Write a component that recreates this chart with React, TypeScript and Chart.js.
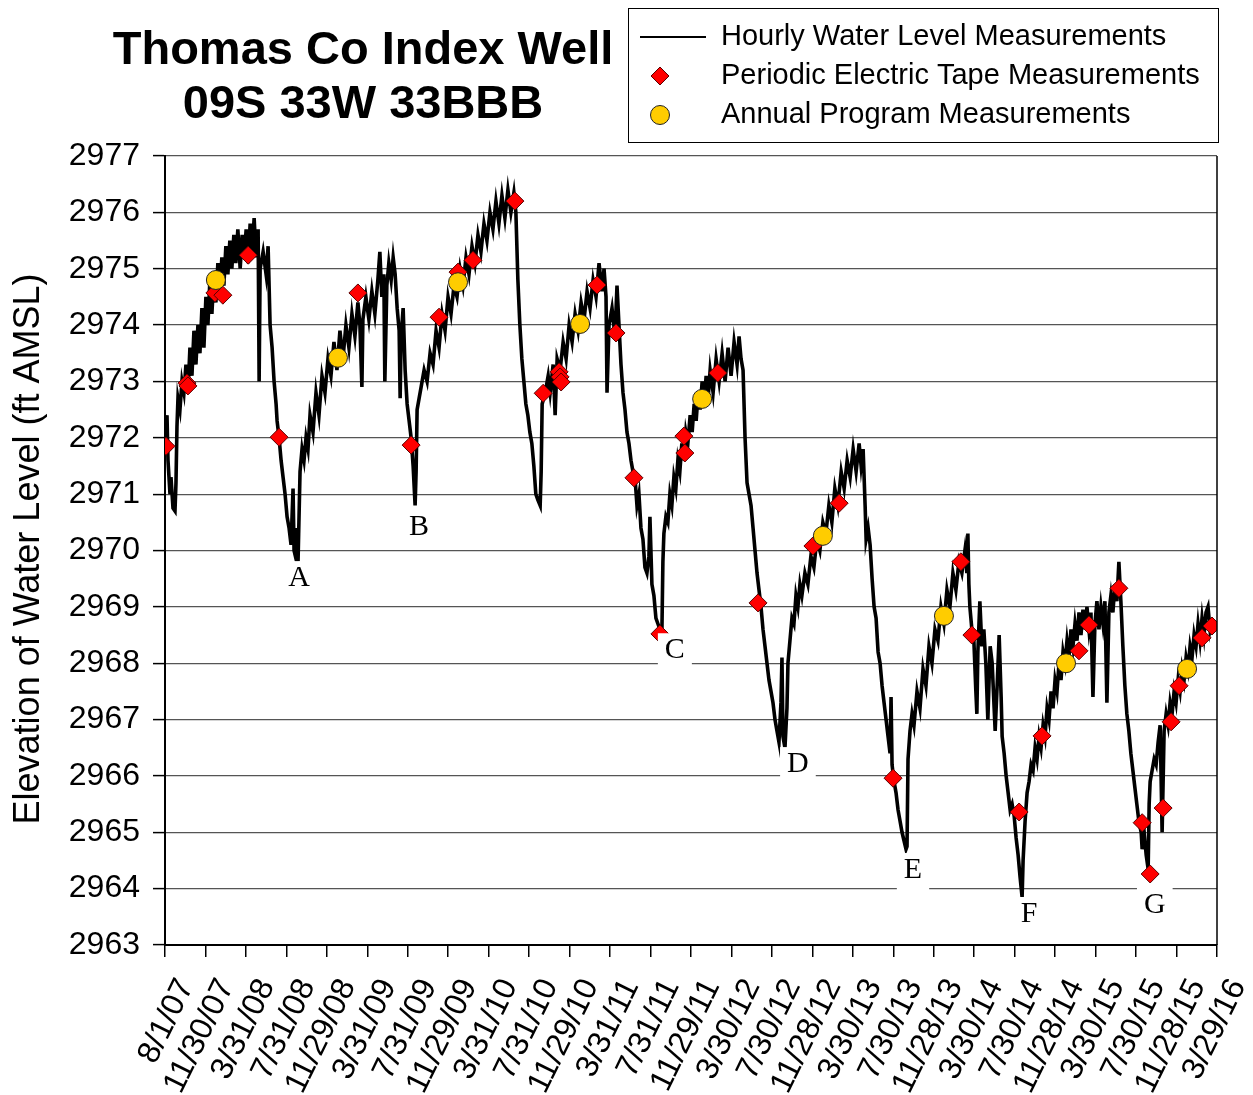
import React, { useEffect, useRef } from 'react';
import { Chart, registerables } from 'chart.js';

Chart.register(...registerables);

// x values are days since 8/1/07
const xTickLabels = ['8/1/07', '11/30/07', '3/31/08', '7/31/08', '11/29/08', '3/31/09', '7/31/09', '11/29/09', '3/31/10', '7/31/10', '11/29/10', '3/31/11', '7/31/11', '11/29/11', '3/30/12', '7/30/12', '11/28/12', '3/30/13', '7/30/13', '11/28/13', '3/30/14', '7/30/14', '11/28/14', '3/30/15', '7/30/15', '11/28/15', '3/29/16'];
const xMaxDay = 3163;
const yMin = 2963;
const yMax = 2977;

const hourlyReadings: [number, number][] = [
  [0, 2971.9], [6, 2972.4], [9, 2971.6], [15, 2971.0], [18, 2971.3], [24, 2970.75], [30, 2970.7], [33, 2971.2], [36, 2972.2], [39, 2972.7], [45, 2972.5], [51, 2973.0], [57, 2972.8], [63, 2973.3], [69, 2972.8], [75, 2973.6], [81, 2973.1], [87, 2973.9], [93, 2973.3], [99, 2974.0], [105, 2973.5], [111, 2974.3], [117, 2973.6], [123, 2974.5], [129, 2974.0], [135, 2974.8], [141, 2974.2], [147, 2974.9], [153, 2974.4], [159, 2975.1], [165, 2974.6], [171, 2975.2], [177, 2974.7], [183, 2975.4], [189, 2974.9], [195, 2975.5], [201, 2975.0], [207, 2975.6], [213, 2975.1], [219, 2975.7], [226, 2975.0], [232, 2975.6], [238, 2975.2], [244, 2975.7], [250, 2975.1], [256, 2975.8], [262, 2975.3], [268, 2975.9], [274, 2975.2], [280, 2975.7], [283, 2973.0], [286, 2975.0], [295, 2975.3], [304, 2974.9], [310, 2975.4], [316, 2974.0], [322, 2973.6], [328, 2973.0], [334, 2972.6], [337, 2972.3], [343, 2972.0], [349, 2971.6], [355, 2971.3], [361, 2971.0], [367, 2970.6], [373, 2970.4], [379, 2970.1], [382, 2970.6], [385, 2971.1], [388, 2970.0], [394, 2969.85], [397, 2970.4], [400, 2969.8], [403, 2970.6], [406, 2971.4], [412, 2971.8], [418, 2971.6], [424, 2972.0], [430, 2971.8], [436, 2972.4], [445, 2972.1], [454, 2972.8], [463, 2972.4], [472, 2973.1], [481, 2972.8], [490, 2973.4], [499, 2973.1], [508, 2973.7], [517, 2973.2], [526, 2973.9], [535, 2973.4], [544, 2974.0], [553, 2973.6], [562, 2974.2], [571, 2973.8], [580, 2974.4], [586, 2974.0], [592, 2972.9], [595, 2974.1], [604, 2974.5], [613, 2974.1], [622, 2974.6], [631, 2974.2], [640, 2974.8], [646, 2975.3], [652, 2974.5], [658, 2974.9], [661, 2973.0], [667, 2974.7], [673, 2975.1], [680, 2974.8], [686, 2975.2], [692, 2974.9], [698, 2974.3], [704, 2973.9], [707, 2972.7], [710, 2973.8], [716, 2974.3], [722, 2973.2], [728, 2972.6], [734, 2972.3], [740, 2972.0], [746, 2971.5], [752, 2970.8], [755, 2971.4], [758, 2972.5], [764, 2972.7], [770, 2972.9], [779, 2973.2], [788, 2973.0], [797, 2973.5], [806, 2973.3], [815, 2973.9], [824, 2973.6], [833, 2974.2], [842, 2973.9], [851, 2974.5], [860, 2974.2], [869, 2974.7], [878, 2974.5], [887, 2975.0], [896, 2974.7], [905, 2975.2], [914, 2974.9], [923, 2975.4], [932, 2975.1], [941, 2975.6], [950, 2975.3], [959, 2975.8], [968, 2975.5], [977, 2976.0], [986, 2975.7], [995, 2976.2], [1004, 2975.8], [1013, 2976.3], [1022, 2975.9], [1031, 2976.4], [1040, 2976.0], [1049, 2976.35], [1055, 2976.0], [1061, 2974.8], [1067, 2974.0], [1073, 2973.4], [1079, 2973.0], [1085, 2972.6], [1091, 2972.4], [1097, 2972.1], [1103, 2971.9], [1109, 2971.5], [1115, 2971.0], [1121, 2970.9], [1128, 2970.8], [1131, 2971.4], [1134, 2972.6], [1143, 2972.8], [1152, 2973.1], [1158, 2972.8], [1167, 2973.3], [1173, 2972.4], [1179, 2973.4], [1188, 2973.2], [1197, 2973.7], [1206, 2973.4], [1215, 2974.0], [1224, 2973.7], [1233, 2974.2], [1242, 2973.9], [1251, 2974.4], [1260, 2974.1], [1269, 2974.6], [1278, 2974.3], [1287, 2974.8], [1296, 2974.5], [1305, 2975.1], [1314, 2974.6], [1320, 2975.0], [1326, 2974.5], [1329, 2972.8], [1335, 2974.0], [1344, 2974.3], [1353, 2973.8], [1359, 2974.7], [1365, 2974.0], [1371, 2973.3], [1377, 2972.8], [1383, 2972.5], [1389, 2972.1], [1395, 2971.9], [1401, 2971.6], [1407, 2971.4], [1413, 2971.3], [1419, 2970.8], [1425, 2971.0], [1431, 2970.4], [1437, 2970.2], [1443, 2969.7], [1449, 2969.6], [1455, 2969.9], [1458, 2970.6], [1464, 2969.4], [1470, 2969.2], [1476, 2968.8], [1482, 2968.7], [1488, 2968.6], [1494, 2968.55], [1497, 2969.8], [1500, 2970.3], [1506, 2970.6], [1512, 2970.5], [1518, 2971.0], [1524, 2970.8], [1530, 2971.3], [1536, 2971.1], [1542, 2971.6], [1548, 2971.4], [1554, 2971.9], [1560, 2971.6], [1566, 2972.1], [1572, 2971.9], [1579, 2972.4], [1585, 2972.1], [1591, 2972.6], [1597, 2972.3], [1603, 2972.8], [1609, 2972.5], [1615, 2973.0], [1621, 2972.6], [1627, 2973.1], [1633, 2972.7], [1639, 2973.2], [1648, 2972.8], [1657, 2973.4], [1666, 2973.0], [1675, 2973.5], [1684, 2973.0], [1693, 2973.6], [1702, 2973.1], [1711, 2973.7], [1720, 2973.3], [1726, 2973.8], [1732, 2973.4], [1738, 2973.2], [1744, 2972.0], [1750, 2971.2], [1756, 2971.0], [1762, 2970.8], [1768, 2970.4], [1774, 2970.0], [1780, 2969.6], [1786, 2969.3], [1792, 2969.0], [1798, 2968.6], [1804, 2968.3], [1810, 2968.0], [1816, 2967.7], [1822, 2967.5], [1828, 2967.3], [1834, 2967.0], [1840, 2966.8], [1846, 2966.6], [1852, 2967.3], [1855, 2968.1], [1858, 2966.7], [1864, 2966.5], [1870, 2967.2], [1873, 2968.0], [1879, 2968.4], [1885, 2968.8], [1891, 2968.7], [1897, 2969.2], [1903, 2969.0], [1909, 2969.4], [1915, 2969.2], [1924, 2969.6], [1933, 2969.4], [1942, 2969.9], [1951, 2969.7], [1960, 2970.2], [1969, 2970.0], [1978, 2970.5], [1987, 2970.3], [1996, 2970.8], [2005, 2970.5], [2014, 2971.1], [2023, 2970.8], [2033, 2971.4], [2042, 2971.1], [2051, 2971.6], [2060, 2971.3], [2069, 2971.8], [2078, 2971.4], [2087, 2971.9], [2093, 2971.5], [2099, 2971.8], [2105, 2970.8], [2108, 2970.2], [2114, 2970.4], [2120, 2970.1], [2126, 2969.5], [2132, 2969.0], [2138, 2968.8], [2144, 2968.2], [2150, 2968.0], [2156, 2967.6], [2162, 2967.3], [2168, 2967.0], [2174, 2966.7], [2180, 2966.4], [2183, 2967.4], [2186, 2966.2], [2192, 2965.9], [2198, 2965.7], [2204, 2965.4], [2210, 2965.2], [2216, 2965.0], [2222, 2964.85], [2228, 2964.7], [2231, 2964.75], [2234, 2966.3], [2240, 2966.8], [2246, 2967.1], [2252, 2966.9], [2261, 2967.5], [2270, 2967.2], [2279, 2967.9], [2288, 2967.6], [2297, 2968.3], [2306, 2968.0], [2315, 2968.6], [2324, 2968.4], [2333, 2969.0], [2342, 2968.7], [2351, 2969.3], [2360, 2969.0], [2369, 2969.6], [2378, 2969.3], [2387, 2969.8], [2396, 2969.6], [2405, 2970.0], [2411, 2969.6], [2414, 2970.3], [2417, 2969.4], [2420, 2969.0], [2426, 2968.6], [2432, 2968.4], [2438, 2967.5], [2441, 2967.1], [2444, 2968.2], [2450, 2969.1], [2456, 2968.3], [2462, 2968.6], [2468, 2968.0], [2474, 2967.0], [2481, 2968.3], [2487, 2968.0], [2493, 2967.2], [2496, 2966.8], [2502, 2967.6], [2508, 2968.5], [2514, 2967.4], [2517, 2966.7], [2523, 2966.4], [2529, 2966.0], [2535, 2965.7], [2541, 2965.4], [2547, 2965.5], [2553, 2965.3], [2559, 2964.9], [2565, 2964.6], [2571, 2964.2], [2577, 2963.85], [2580, 2964.5], [2586, 2965.2], [2592, 2965.7], [2598, 2965.9], [2604, 2966.2], [2610, 2966.1], [2616, 2966.5], [2622, 2966.3], [2628, 2966.7], [2634, 2966.5], [2640, 2966.9], [2646, 2966.7], [2652, 2967.2], [2658, 2967.0], [2664, 2967.5], [2670, 2967.2], [2676, 2967.7], [2682, 2967.5], [2688, 2968.0], [2694, 2967.7], [2700, 2968.2], [2706, 2968.0], [2712, 2968.4], [2718, 2968.1], [2724, 2968.6], [2730, 2968.3], [2736, 2968.7], [2742, 2968.4], [2748, 2968.9], [2754, 2968.5], [2760, 2968.95], [2766, 2968.6], [2772, 2969.0], [2778, 2968.6], [2784, 2968.9], [2790, 2967.4], [2796, 2968.7], [2802, 2969.1], [2808, 2968.6], [2814, 2969.0], [2820, 2968.7], [2826, 2969.1], [2832, 2967.3], [2838, 2968.9], [2844, 2969.2], [2850, 2968.9], [2856, 2969.4], [2862, 2969.1], [2868, 2969.8], [2874, 2969.1], [2880, 2968.3], [2886, 2967.6], [2892, 2967.1], [2898, 2966.8], [2904, 2966.4], [2910, 2966.1], [2916, 2965.8], [2922, 2965.5], [2928, 2965.2], [2935, 2965.0], [2938, 2964.7], [2944, 2965.0], [2950, 2964.6], [2956, 2964.35], [2959, 2965.5], [2962, 2965.9], [2968, 2966.1], [2974, 2966.3], [2980, 2966.2], [2986, 2966.6], [2992, 2966.9], [2998, 2965.0], [3004, 2966.8], [3010, 2967.1], [3016, 2966.9], [3022, 2967.3], [3028, 2967.1], [3034, 2967.5], [3040, 2967.3], [3046, 2967.7], [3052, 2967.5], [3058, 2967.9], [3064, 2967.7], [3070, 2968.1], [3076, 2967.9], [3082, 2968.3], [3088, 2968.1], [3094, 2968.5], [3100, 2968.3], [3106, 2968.7], [3112, 2968.4], [3118, 2968.8], [3124, 2968.5], [3130, 2968.9], [3136, 2969.0], [3142, 2968.6], [3148, 2968.8],
];

const tapeReadings: [number, number][] = [
  [3, 2971.85], [66, 2972.97], [69, 2972.92], [150, 2974.57], [174, 2974.53], [250, 2975.24], [343, 2972.01], [580, 2974.57], [740, 2971.87], [824, 2974.14], [881, 2974.94], [926, 2975.15], [1052, 2976.2], [1137, 2972.79], [1185, 2973.17], [1188, 2973.08], [1191, 2972.99], [1299, 2974.71], [1356, 2973.86], [1410, 2971.29], [1488, 2968.52], [1560, 2972.03], [1563, 2971.73], [1662, 2973.15], [1783, 2969.07], [1948, 2970.08], [2027, 2970.84], [2189, 2965.96], [2393, 2969.8], [2426, 2968.5], [2568, 2965.36], [2637, 2966.71], [2748, 2968.22], [2778, 2968.68], [2868, 2969.33], [2938, 2965.17], [2962, 2964.26], [3001, 2965.43], [3025, 2966.96], [3049, 2967.6], [3118, 2968.45], [3148, 2968.66],
];

const annualReadings: [number, number][] = [
  [153, 2974.8], [520, 2973.42], [881, 2974.76], [1248, 2974.02], [1615, 2972.69], [1978, 2970.26], [2342, 2968.84], [2709, 2968.0], [3073, 2967.9],
];

const troughLetters = ['A', 'B', 'C', 'D', 'E', 'F', 'G'];
const troughDays = [403, 764, 1533, 1903, 2249, 2598, 2976];
const troughLevels = [2969.51, 2970.42, 2968.23, 2966.21, 2964.33, 2963.55, 2963.71];

const titleLines = ['Thomas Co Index Well', '09S 33W 33BBB'];
const yAxisTitle = 'Elevation of Water Level (ft AMSL)';
const seriesNames = ['Hourly Water Level Measurements', 'Periodic Electric Tape Measurements', 'Annual Program Measurements'];

const SANS = '"Liberation Sans", Arial, sans-serif';
const SERIF = '"Liberation Serif", "Times New Roman", serif';

function drawDiamond(ctx: CanvasRenderingContext2D, x: number, y: number, r: number) {
  ctx.beginPath();
  ctx.moveTo(x, y - r);
  ctx.lineTo(x + r, y);
  ctx.lineTo(x, y + r);
  ctx.lineTo(x - r, y);
  ctx.closePath();
  ctx.fillStyle = '#FF0000';
  ctx.fill();
  ctx.strokeStyle = '#5a0000';
  ctx.lineWidth = 1;
  ctx.stroke();
}

const decorPlugin = {
  id: 'decor',
  afterDraw(chart: any) {
    const { ctx, chartArea, scales } = chart;
    const xs = scales.x;
    const ys = scales.y;
    ctx.save();

    // right frame line
    ctx.strokeStyle = '#000';
    ctx.lineWidth = 1.5;
    ctx.beginPath();
    ctx.moveTo(chartArea.right, chartArea.top);
    ctx.lineTo(chartArea.right, chartArea.bottom);
    ctx.stroke();

    // trough letters
    ctx.font = `30px ${SERIF}`;
    ctx.textAlign = 'center';
    ctx.textBaseline = 'middle';
    troughLetters.forEach((letter, i) => {
      const px = xs.getPixelForValue(troughDays[i]);
      const py = ys.getPixelForValue(troughLevels[i]);
      const w = ctx.measureText(letter).width + 14;
      ctx.fillStyle = '#fff';
      ctx.fillRect(px - w / 2, py - 17, w, 38);
      ctx.fillStyle = '#000';
      ctx.fillText(letter, px, py);
    });

    // title
    ctx.font = `bold 47px ${SANS}`;
    ctx.fillStyle = '#000';
    ctx.textAlign = 'center';
    ctx.fillText(titleLines[0], 363, 51);
    ctx.fillText(titleLines[1], 363, 105);

    // y axis title
    ctx.save();
    ctx.translate(29, 549);
    ctx.rotate(-Math.PI / 2);
    ctx.font = `36px ${SANS}`;
    ctx.fillText(yAxisTitle, 0, 0);
    ctx.restore();

    // legend
    ctx.fillStyle = '#fff';
    ctx.fillRect(628, 8, 591, 135);
    ctx.strokeStyle = '#000';
    ctx.lineWidth = 1;
    ctx.strokeRect(628.5, 8.5, 590, 134);
    ctx.lineWidth = 2;
    ctx.beginPath();
    ctx.moveTo(640, 37);
    ctx.lineTo(706, 37);
    ctx.stroke();
    drawDiamond(ctx, 660, 76, 9);
    ctx.beginPath();
    ctx.arc(660, 115, 9.5, 0, Math.PI * 2);
    ctx.fillStyle = '#FFCC00';
    ctx.fill();
    ctx.strokeStyle = '#222';
    ctx.lineWidth = 1;
    ctx.stroke();
    ctx.font = `29px ${SANS}`;
    ctx.fillStyle = '#000';
    ctx.textAlign = 'left';
    ctx.fillText(seriesNames[0], 721, 37);
    ctx.fillText(seriesNames[1], 721, 76);
    ctx.fillText(seriesNames[2], 721, 115);

    ctx.restore();
  },
};

export default function App() {
  const ref = useRef<HTMLCanvasElement>(null);
  useEffect(() => {
    const canvas = ref.current!;
    const chart = new Chart(canvas, {
      type: 'scatter',
      data: {
        datasets: [
          {
            label: seriesNames[2],
            data: annualReadings.map(([x, y]) => ({ x, y })),
            pointStyle: 'circle',
            pointRadius: 9.5,
            backgroundColor: '#FFCC00',
            borderColor: '#222',
            borderWidth: 1,
            order: 0,
          },
          {
            label: seriesNames[1],
            data: tapeReadings.map(([x, y]) => ({ x, y })),
            pointStyle: 'rectRot',
            pointRadius: 9,
            backgroundColor: '#FF0000',
            borderColor: '#5a0000',
            borderWidth: 1,
            order: 1,
          },
          {
            label: seriesNames[0],
            data: hourlyReadings.map(([x, y]) => ({ x, y })),
            showLine: true,
            borderColor: '#000',
            borderWidth: 3.6,
            borderJoinStyle: 'miter',
            pointRadius: 0,
            tension: 0,
            order: 2,
          },
        ],
      } as any,
      options: {
        responsive: false,
        animation: false,
        layout: { padding: { top: 156, right: 36, left: 0, bottom: 0 } },
        plugins: { legend: { display: false }, tooltip: { enabled: false }, title: { display: false } },
        scales: {
          x: {
            type: 'linear',
            min: 0,
            max: xMaxDay,
            afterBuildTicks: (s: any) => {
              s.ticks = xTickLabels.map((_, i) => ({ value: (i * xMaxDay) / (xTickLabels.length - 1) }));
            },
            afterFit: (s: any) => {
              s.height = 150;
              s.paddingLeft = 0;
              s.paddingRight = 0;
            },
            ticks: {
              autoSkip: false,
              minRotation: 64,
              maxRotation: 64,
              padding: 16,
              labelOffset: 21,
              color: '#000',
              font: { family: SANS, size: 32 },
              callback: (_v: any, i: number) => xTickLabels[i],
            },
            grid: { drawOnChartArea: false, drawTicks: true, tickLength: 12, color: '#000', lineWidth: 1.5 },
            border: { color: '#000', width: 2 },
          },
          y: {
            min: yMin,
            max: yMax,
            afterFit: (s: any) => {
              s.width = 165;
            },
            ticks: {
              stepSize: 1,
              padding: 13,
              color: '#000',
              font: { family: SANS, size: 32 },
              callback: (v: any) => String(v),
            },
            grid: { color: '#555', lineWidth: 1.2, tickLength: 12, tickColor: '#000', tickWidth: 1.5 },
            border: { color: '#000', width: 2 },
          },
        },
      } as any,
      plugins: [decorPlugin],
    });
    return () => chart.destroy();
  }, []);
  return (
    <div style={{ position: 'fixed', left: 0, top: 0, width: 1253, height: 1095, background: '#fff' }}>
      <canvas ref={ref} width={1253} height={1095} style={{ width: 1253, height: 1095, display: 'block' }} />
    </div>
  );
}
